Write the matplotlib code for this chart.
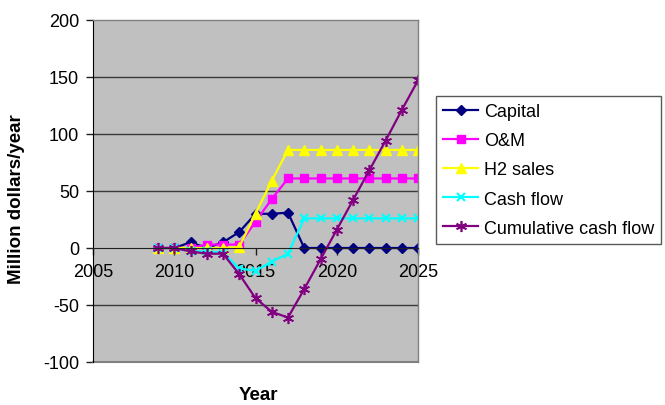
import matplotlib
matplotlib.use("Agg")
import matplotlib.pyplot as plt

plt.rcParams['font.family'] = ['Liberation Sans', 'DejaVu Sans']
plt.rcParams['axes.unicode_minus'] = False

# Hydrogen project economics, million dollars per year
years = list(range(2009, 2026))
capital = [0, 0, 5, 0, 5, 14, 30, 30, 31, 0, 0, 0, 0, 0, 0, 0, 0]
om = [0, 0, 0, 3, 3, 3, 23, 43, 61, 61, 61, 61, 61, 61, 61, 61, 61]
h2_sales = [0, 0, 0, 0, 0, 1, 30, 59, 86, 86, 86, 86, 86, 86, 86, 86, 86]
cash_flow = [0, 0, -3, -3, -4, -18, -20, -12, -5, 26, 26, 26, 26, 26, 26, 26, 26]
cumulative = [0, 0, -3, -5, -5, -23, -44, -56, -61, -36, -10, 16, 42, 68, 94, 121, 147]

series_names = ["Capital", "O&M", "H2 sales", "Cash flow", "Cumulative cash flow"]
x_ticks = [2005, 2010, 2015, 2020, 2025]
y_ticks = [-100, -50, 0, 50, 100, 150, 200]

fig = plt.figure(figsize=(6.65, 4.06), dpi=100)
ax = fig.add_axes([93 / 665, 1 - 363 / 406, 325 / 665, 342 / 406])
ax.set_facecolor('#C0C0C0')

styles = [
    dict(color='#000080', marker='D', ms=5),
    dict(color='#FF00FF', marker='s', ms=5.5),
    dict(color='#FFFF00', marker='^', ms=6.5),
    dict(color='#00FFFF', marker='x', ms=6, mew=1.5),
    dict(color='#800080', marker=(6, 2, 0), ms=8, mew=1.2),
]
for vals, name, st in zip([capital, om, h2_sales, cash_flow, cumulative], series_names, styles):
    ax.plot(years, vals, lw=1.6, label=name, **st)

ax.set_xlim(2005, 2025)
ax.set_ylim(-100, 200)
ax.set_xticks(x_ticks)
ax.set_yticks(y_ticks)

# horizontal gridlines
for v in y_ticks:
    if v not in (0, 200, -100):
        ax.axhline(v, color='#3a3a3a', lw=1.0, zorder=0.5)

ax.spines['bottom'].set_position(('data', 0))
ax.spines['bottom'].set_color('#202020')
ax.spines['left'].set_color('black')
ax.spines['top'].set_color('#808080')
ax.spines['right'].set_color('#808080')
for s in ('top', 'right'):
    ax.spines[s].set_linewidth(1.0)

# bottom frame edge of the plot area
ax.axhline(-100, color='#808080', lw=1.5, clip_on=False)

ax.tick_params(axis='both', labelsize=13, direction='out', length=5, width=1, color='#202020')
ax.tick_params(axis='x', pad=6)
ax.tick_params(axis='y', pad=5)

fig.text(17 / 665, 1 - 199 / 406, "Million dollars/year", rotation=90,
         ha='center', va='center', fontsize=13.5, fontweight='bold')
fig.text(258 / 665, 1 - 396 / 406, "Year", ha='center', va='center',
         fontsize=13.5, fontweight='bold')

leg = fig.legend(loc='upper left', bbox_to_anchor=(436 / 665, 1 - 97 / 406),
                 fontsize=13, frameon=True, fancybox=False, handlelength=1.95,
                 handletextpad=0.3, borderpad=0.4, labelspacing=0.67,
                 borderaxespad=0)
leg.get_frame().set_edgecolor('#303030')
leg.get_frame().set_linewidth(1.0)

fig.savefig("out.png", dpi=100)
